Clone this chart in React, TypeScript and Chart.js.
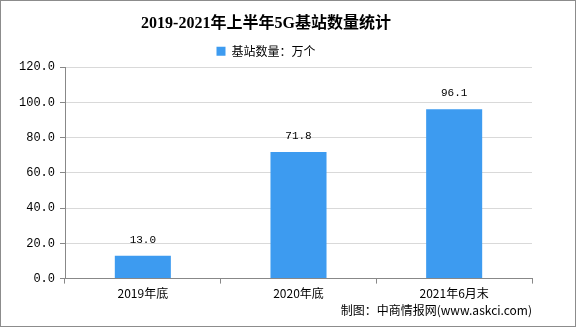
import React, { useEffect, useRef } from "react";
import { Chart, registerables } from "chart.js";

Chart.register(...registerables);

const categories = ["2019年底", "2020年底", "2021年6月末"];
const values = [13.0, 71.8, 96.1];
const seriesName = "基站数量：万个";
const titleText = "2019-2021年上半年5G基站数量统计";
const sourceText = "制图：中商情报网(www.askci.com)";
const yMin = 0;
const yMax = 120;
const yStep = 20;

const BAR_COLOR = "#3d9bf0";
const CJK = '"Noto Sans CJK SC", "Noto Sans", sans-serif';
const MONO = '"Liberation Mono", "DejaVu Sans Mono", monospace';

const extrasPlugin = {
  id: "extras",
  afterDatasetsDraw(chart: any) {
    const ctx = chart.ctx;
    const meta = chart.getDatasetMeta(0);
    ctx.save();
    ctx.fillStyle = "#000";
    ctx.font = `11px ${MONO}`;
    ctx.textAlign = "center";
    ctx.textBaseline = "middle";
    meta.data.forEach((bar: any, i: number) => {
      ctx.fillText(values[i].toFixed(1), bar.x, bar.y - 16);
    });
    ctx.restore();
  },
  afterDraw(chart: any) {
    const ctx = chart.ctx;
    ctx.save();
    ctx.fillStyle = "#000";
    ctx.font = `12px ${CJK}`;
    ctx.textAlign = "right";
    ctx.textBaseline = "middle";
    ctx.fillText(sourceText, chart.chartArea.right, 310);
    ctx.strokeStyle = "#8c8c8c";
    ctx.lineWidth = 1;
    ctx.strokeRect(0.5, 0.5, chart.width - 1, chart.height - 1);
    ctx.restore();
  },
};

export default function App() {
  const ref = useRef<HTMLCanvasElement | null>(null);
  useEffect(() => {
    document.body.style.margin = "0";
    if (!ref.current) return;
    const chart = new Chart(ref.current, {
      type: "bar",
      data: {
        labels: categories,
        datasets: [
          {
            label: seriesName,
            data: values,
            backgroundColor: BAR_COLOR,
            borderWidth: 0,
            categoryPercentage: 1,
            barPercentage: 0.36,
          },
        ],
      },
      options: {
        responsive: false,
        animation: false,
        events: [],
        layout: { padding: { left: 0, right: 44, top: 0, bottom: 23 } },
        plugins: {
          title: {
            display: true,
            text: titleText,
            color: "#000",
            font: { family: `"Liberation Serif", ${CJK}`, size: 16, weight: "bold" },
            padding: { top: 14, bottom: 5 },
          },
          legend: {
            display: true,
            labels: {
              color: "#000",
              boxWidth: 9,
              boxHeight: 9,
              padding: 7,
              font: { family: CJK, size: 12 },
            },
          },
          tooltip: { enabled: false },
        },
        scales: {
          x: {
            grid: { drawOnChartArea: false, offset: true, tickLength: 5, color: "#888" },
            border: { color: "#888" },
            ticks: { color: "#000", padding: 3, font: { family: CJK, size: 12 } },
          },
          y: {
            min: yMin,
            max: yMax,
            afterFit: (s: any) => {
              s.width = 65;
            },
            grid: { color: "#d9d9d9", tickLength: 5, tickColor: "#888" },
            border: { color: "#888" },
            ticks: {
              stepSize: yStep,
              color: "#000",
              padding: 5,
              font: { family: MONO, size: 12 },
              callback: (v: any) => Number(v).toFixed(1),
            },
          },
        },
      },
      plugins: [extrasPlugin],
    });
    return () => chart.destroy();
  }, []);
  return (
    <div style={{ width: 576, height: 327 }}>
      <canvas ref={ref} width={576} height={327} style={{ display: "block" }} />
    </div>
  );
}
